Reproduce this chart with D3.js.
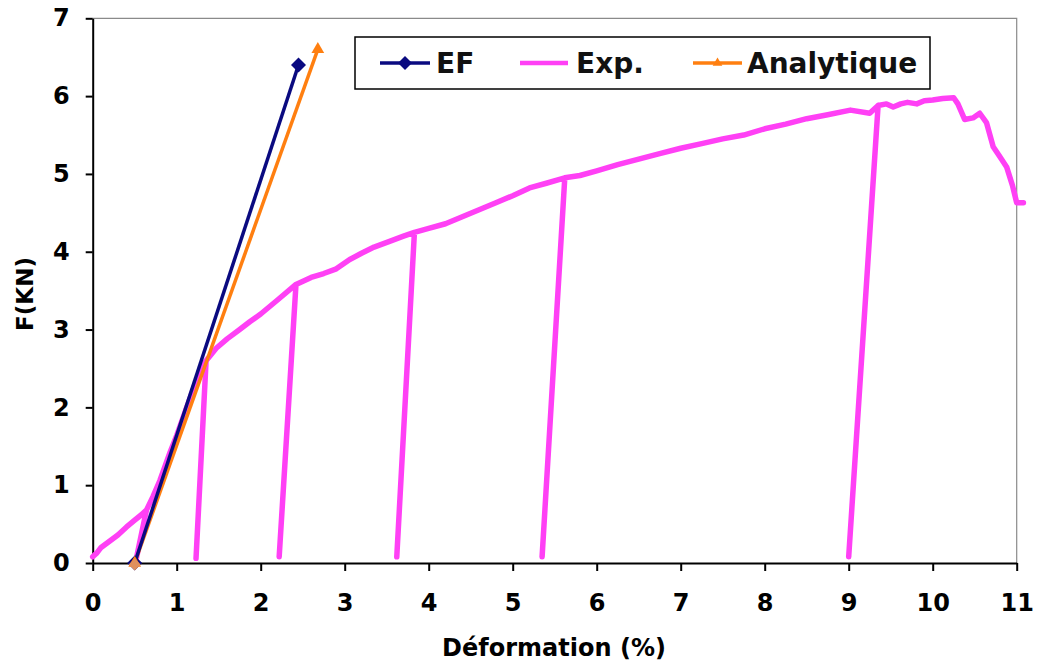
<!DOCTYPE html>
<html>
<head>
<meta charset="utf-8">
<script src="https://cdn.jsdelivr.net/npm/d3@7/dist/d3.min.js"></script>
<style>
  html, body { margin: 0; padding: 0; background: #fff; }
  svg { display: block; font-family: "DejaVu Sans", Verdana, sans-serif; font-weight: bold; }
</style>
</head>
<body>
<svg id="chart" width="1041" height="668"></svg>
<script>
// Tick values
const xTicks = [0, 1, 2, 3, 4, 5, 6, 7, 8, 9, 10, 11];
const yTicks = [0, 1, 2, 3, 4, 5, 6, 7];

// Finite element model: [strain %, force kN]
const efPoints = [[0.5, 0], [2.45, 6.4]];

// Analytical model
const anaPoints = [[0.5, 0], [2.68, 6.6]];

// Experimental curve, including the unload/reload cycles
const expPoints = [
  [0, 0.08], [0.05, 0.13], [0.1, 0.2], [0.2, 0.28], [0.3, 0.36], [0.4, 0.46],
  [0.5, 0.55], [0.58, 0.62], [0.64, 0.68],
  [0.52, 0.06], [0.64, 0.68],
  [0.72, 0.86], [0.8, 1.06], [0.92, 1.42], [1.0, 1.64], [1.1, 1.94],
  [1.2, 2.24], [1.3, 2.5], [1.35, 2.6],
  [1.23, 0.06], [1.35, 2.6],
  [1.47, 2.76], [1.6, 2.88], [1.75, 3.0], [1.87, 3.1], [2.0, 3.2],
  [2.2, 3.38], [2.42, 3.58],
  [2.22, 0.08], [2.42, 3.58],
  [2.6, 3.67], [2.75, 3.72], [2.9, 3.78], [3.06, 3.9], [3.2, 3.98], [3.35, 4.06],
  [3.55, 4.14], [3.7, 4.2], [3.83, 4.25],
  [3.62, 0.08], [3.83, 4.25],
  [4.0, 4.3], [4.2, 4.36], [4.4, 4.45], [4.6, 4.54], [4.8, 4.63], [5.0, 4.72],
  [5.2, 4.82], [5.4, 4.88], [5.62, 4.95],
  [5.35, 0.08], [5.62, 4.95],
  [5.8, 4.98], [6.0, 5.04], [6.25, 5.12], [6.5, 5.19], [6.75, 5.26], [7.0, 5.33],
  [7.25, 5.39], [7.5, 5.45], [7.75, 5.5], [8.0, 5.58], [8.25, 5.64], [8.5, 5.71],
  [8.75, 5.76], [9.02, 5.82], [9.25, 5.78], [9.35, 5.88],
  [9.0, 0.08], [9.35, 5.88],
  [9.45, 5.9], [9.53, 5.86], [9.62, 5.9], [9.7, 5.92], [9.81, 5.9], [9.9, 5.94],
  [10.0, 5.95], [10.12, 5.97], [10.25, 5.98],
  [10.3, 5.9], [10.38, 5.7], [10.48, 5.72], [10.56, 5.78], [10.64, 5.66],
  [10.72, 5.35], [10.8, 5.22], [10.88, 5.09], [10.95, 4.85], [11.0, 4.63], [11.08, 4.63]
];

const seriesNames = ["EF", "Exp.", "Analytique"];
const colors = { ef: "#0a0a80", exp: "#ff40f5", ana: "#ff7f10" };

const svg = d3.select("#chart");
const x = d3.scaleLinear().domain([0, 11]).range([92.7, 1016.7]);
const y = d3.scaleLinear().domain([0, 7]).range([563, 18.3]);

// plot frame (top and right edges)
svg.append("path")
  .attr("d", `M${x(0)},${y(7)}H${x(11)}V${y(0)}`)
  .attr("fill", "none").attr("stroke", "#8a8a8a").attr("stroke-width", 1.2);

// axes
const xAxis = svg.append("g").attr("transform", `translate(0,${y(0)})`)
  .call(d3.axisBottom(x).tickValues(xTicks).tickFormat(d3.format("d"))
    .tickSize(8).tickPadding(23).tickSizeOuter(0));
const yAxis = svg.append("g").attr("transform", `translate(${x(0)},0)`)
  .call(d3.axisLeft(y).tickValues(yTicks).tickFormat(d3.format("d"))
    .tickSize(7).tickPadding(16).tickSizeOuter(0));
[xAxis, yAxis].forEach(g => {
  g.attr("font-size", null).attr("font-family", null);
  g.selectAll("path, line").attr("stroke", "#000").attr("stroke-width", 2);
  g.selectAll("text").attr("fill", "#000").style("font-size", "24px")
    .style("font-family", "DejaVu Sans").style("font-weight", "bold");
});
xAxis.selectAll("text").attr("dy", "0.71em");

const line = d3.line().x(d => x(d[0])).y(d => y(d[1]));

// experimental curve
svg.append("path").datum(expPoints).attr("d", line)
  .attr("fill", "none").attr("stroke", colors.exp).attr("stroke-width", 5.5)
  .attr("stroke-linejoin", "round").attr("stroke-linecap", "round");

// analytical line
svg.append("path").datum(anaPoints).attr("d", line)
  .attr("fill", "none").attr("stroke", colors.ana).attr("stroke-width", 3.5);

// finite element line
svg.append("path").datum(efPoints).attr("d", line)
  .attr("fill", "none").attr("stroke", colors.ef).attr("stroke-width", 3.5);

// square diamond marker
const diamondPath = r => `M0,${-r}L${r},0L0,${r}L${-r},0Z`;
const tri = d3.symbol().type(d3.symbolTriangle).size(70);

svg.selectAll(".ef-pt").data(efPoints).join("path")
  .attr("transform", d => `translate(${x(d[0])},${y(d[1])})`)
  .attr("d", diamondPath(7.5)).attr("fill", colors.ef);
svg.selectAll(".ana-pt").data(anaPoints).join("path")
  .attr("transform", d => `translate(${x(d[0])},${y(d[1])})`)
  .attr("d", tri).attr("fill", colors.ana);
// overlapping start markers
svg.append("path")
  .attr("transform", `translate(${x(anaPoints[0][0])},${y(anaPoints[0][1]) + 1.5})`)
  .attr("d", diamondPath(6)).attr("fill", "#e0905e");

// axis titles
svg.append("text").attr("x", 554).attr("y", 656).attr("text-anchor", "middle")
  .style("font-size", "24px").text("Déformation (%)");
svg.append("text").attr("transform", "translate(33,294) rotate(-90)")
  .attr("text-anchor", "middle").style("font-size", "23px").text("F(KN)");

// legend
const lg = svg.append("g");
lg.append("rect").attr("x", 355).attr("y", 37).attr("width", 575).attr("height", 52)
  .attr("fill", "#fff").attr("stroke", "#000").attr("stroke-width", 1.5);
const items = [
  { name: seriesNames[0], color: colors.ef, x0: 380, x1: 430, tx: 436, mark: "diamond" },
  { name: seriesNames[1], color: colors.exp, x0: 520, x1: 568, tx: 576, mark: null },
  { name: seriesNames[2], color: colors.ana, x0: 693, x1: 742, tx: 747, mark: "tri" }
];
items.forEach(it => {
  lg.append("line").attr("x1", it.x0).attr("x2", it.x1).attr("y1", 63).attr("y2", 63)
    .attr("stroke", it.color).attr("stroke-width", it.mark ? 3.5 : 4.5);
  if (it.mark === "diamond") {
    lg.append("path").attr("transform", `translate(${(it.x0 + it.x1) / 2},63)`)
      .attr("d", diamondPath(7)).attr("fill", it.color);
  } else if (it.mark === "tri") {
    lg.append("path").attr("transform", `translate(${(it.x0 + it.x1) / 2},63)`)
      .attr("d", d3.symbol().type(d3.symbolTriangle).size(40)).attr("fill", it.color);
  }
  lg.append("text").attr("x", it.tx).attr("y", 73).style("font-size", "28px")
    .attr("fill", "#111").text(it.name);
});
</script>
</body>
</html>
